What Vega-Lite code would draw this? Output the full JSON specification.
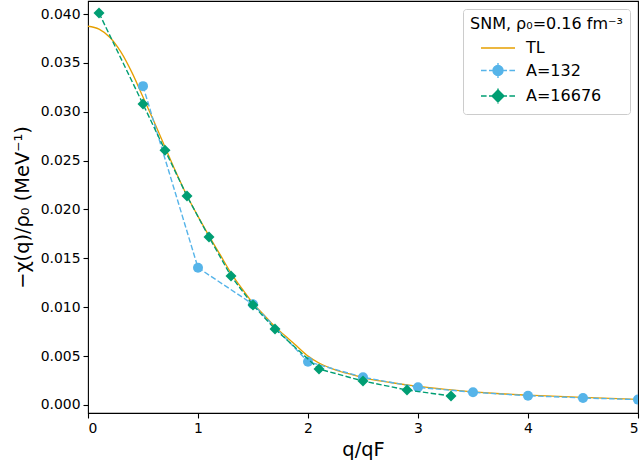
{
  "$schema": "https://vega.github.io/schema/vega-lite/v6.json",
  "width": 550,
  "height": 412,
  "autosize": "none",
  "padding": {"left": 88, "top": 1, "right": 3, "bottom": 55},
  "background": "white",
  "config": {
    "view": {"stroke": "black", "strokeWidth": 1.1},
    "axis": {
      "domain": false, "grid": false,
      "tickColor": "black", "tickSize": 5, "tickWidth": 1.1,
      "labelFont": "DejaVu Sans", "labelFontSize": 13.9, "labelColor": "black", "labelPadding": 3,
      "titleFont": "DejaVu Sans", "titleFontSize": 19.4, "titleFontWeight": "normal", "titleColor": "black"
    },
    "legend": {
      "labelFont": "DejaVu Sans", "labelFontSize": 16, "labelColor": "black",
      "titleFont": "DejaVu Sans", "titleFontSize": 16, "titleFontWeight": "normal", "titleColor": "black",
      "strokeColor": "#cccccc", "fillColor": "rgba(255,255,255,0.8)", "cornerRadius": 3, "padding": 7
    }
  },
  "datasets": {
    "d": [
      {"s": "TL", "q": 0.0, "v": 0.03875},
      {"s": "TL", "q": 0.1, "v": 0.03845},
      {"s": "TL", "q": 0.2, "v": 0.0376},
      {"s": "TL", "q": 0.3, "v": 0.0361},
      {"s": "TL", "q": 0.4, "v": 0.0340},
      {"s": "TL", "q": 0.5, "v": 0.0315},
      {"s": "TL", "q": 0.6, "v": 0.0290},
      {"s": "TL", "q": 0.7, "v": 0.0264},
      {"s": "TL", "q": 0.8, "v": 0.0238},
      {"s": "TL", "q": 0.9, "v": 0.0214},
      {"s": "TL", "q": 1.0, "v": 0.0193},
      {"s": "TL", "q": 1.1, "v": 0.0173},
      {"s": "TL", "q": 1.2, "v": 0.0154},
      {"s": "TL", "q": 1.3, "v": 0.0135},
      {"s": "TL", "q": 1.4, "v": 0.0119},
      {"s": "TL", "q": 1.5, "v": 0.0104},
      {"s": "TL", "q": 1.6, "v": 0.0092},
      {"s": "TL", "q": 1.7, "v": 0.0080},
      {"s": "TL", "q": 1.8, "v": 0.0070},
      {"s": "TL", "q": 1.9, "v": 0.0060},
      {"s": "TL", "q": 2.0, "v": 0.0050},
      {"s": "TL", "q": 2.1, "v": 0.0043},
      {"s": "TL", "q": 2.2, "v": 0.0038},
      {"s": "TL", "q": 2.3, "v": 0.0034},
      {"s": "TL", "q": 2.4, "v": 0.0031},
      {"s": "TL", "q": 2.5, "v": 0.0028},
      {"s": "TL", "q": 2.75, "v": 0.0023},
      {"s": "TL", "q": 3.0, "v": 0.0019},
      {"s": "TL", "q": 3.25, "v": 0.0016},
      {"s": "TL", "q": 3.5, "v": 0.00135},
      {"s": "TL", "q": 3.75, "v": 0.00115},
      {"s": "TL", "q": 4.0, "v": 0.0010},
      {"s": "TL", "q": 4.5, "v": 0.00077},
      {"s": "TL", "q": 5.0, "v": 0.00058},
      {"s": "A=132", "q": 0.5, "v": 0.03262},
      {"s": "A=132", "q": 1.0, "v": 0.01404},
      {"s": "A=132", "q": 1.5, "v": 0.0103},
      {"s": "A=132", "q": 2.0, "v": 0.00443},
      {"s": "A=132", "q": 2.5, "v": 0.00283},
      {"s": "A=132", "q": 3.0, "v": 0.00181},
      {"s": "A=132", "q": 3.5, "v": 0.0013},
      {"s": "A=132", "q": 4.0, "v": 0.00095},
      {"s": "A=132", "q": 4.5, "v": 0.00072},
      {"s": "A=132", "q": 5.0, "v": 0.00055},
      {"s": "A=16676", "q": 0.1, "v": 0.0401},
      {"s": "A=16676", "q": 0.5, "v": 0.03078},
      {"s": "A=16676", "q": 0.7, "v": 0.02607},
      {"s": "A=16676", "q": 0.9, "v": 0.02137},
      {"s": "A=16676", "q": 1.1, "v": 0.01718},
      {"s": "A=16676", "q": 1.3, "v": 0.01319},
      {"s": "A=16676", "q": 1.5, "v": 0.01022},
      {"s": "A=16676", "q": 1.7, "v": 0.00777},
      {"s": "A=16676", "q": 2.1, "v": 0.00368},
      {"s": "A=16676", "q": 2.5, "v": 0.00245},
      {"s": "A=16676", "q": 2.9, "v": 0.00153},
      {"s": "A=16676", "q": 3.3, "v": 0.00092}
    ]
  },
  "data": {"name": "d"},
  "encoding": {
    "x": {"field": "q", "type": "quantitative",
      "scale": {"domain": [0, 5], "nice": false, "zero": false},
      "axis": {"title": "q/qF", "values": [0, 1, 2, 3, 4, 5], "format": "d", "titlePadding": 6}},
    "y": {"field": "v", "type": "quantitative",
      "scale": {"domain": [-0.00082, 0.04133], "nice": false, "zero": false},
      "axis": {"title": "−χ(q)/ρ₀ (MeV⁻¹)", "values": [0, 0.005, 0.01, 0.015, 0.02, 0.025, 0.03, 0.035, 0.04], "format": ".3f", "titlePadding": 8}}
  },
  "layer": [
    {
      "transform": [{"filter": "datum.s === 'TL'"}],
      "mark": {"type": "line", "color": "#E69F00", "strokeWidth": 1.3, "clip": true, "interpolate": "monotone"},
      "encoding": {}
    },
    {
      "transform": [{"filter": "datum.s === 'A=132'"}],
      "mark": {"type": "line", "color": "#56B4E9", "strokeWidth": 1.4, "strokeDash": [5.5, 2.4], "clip": true},
      "encoding": {}
    },
    {
      "transform": [{"filter": "datum.s === 'A=132'"}],
      "mark": {"type": "point", "filled": true, "opacity": 1, "shape": "circle", "size": 100, "color": "#56B4E9", "clip": true},
      "encoding": {}
    },
    {
      "transform": [{"filter": "datum.s === 'A=16676'"}],
      "mark": {"type": "line", "color": "#009E73", "strokeWidth": 1.4, "strokeDash": [5.5, 2.4], "clip": true},
      "encoding": {}
    },
    {
      "transform": [{"filter": "datum.s === 'A=16676'"}],
      "mark": {"type": "point", "filled": true, "opacity": 0, "size": 121, "clip": true},
      "encoding": {
        "color": {"field": "s", "type": "nominal",
          "scale": {"domain": ["TL", "A=132", "A=16676"], "range": ["#E69F00", "#56B4E9", "#009E73"]},
          "legend": {
            "title": "SNM, ρ₀=0.16 fm⁻³",
            "orient": "top-right", "offset": 8,
            "symbolSize": 400, "symbolOffset": 17, "labelOffset": 17, "rowPadding": 3.5,
            "symbolOpacity": 1,
            "encode": {
              "symbols": {
                "update": {
                  "shape": {"signal": "datum.value === 'TL' ? 'M-1.7,0L1.7,0' : datum.value === 'A=132' ? 'M-1.7,0H-1.14M-0.9,0H-0.34M0.34,0H0.9M1.14,0H1.7M0,-0.75V0.75M0.5,0A0.5,0.5 0 1,1 -0.5,0A0.5,0.5 0 1,1 0.5,0Z' : 'M-1.7,0H-1.14M-0.9,0H-0.34M0.34,0H0.9M1.14,0H1.7M0,-0.75V0.75M0,-0.6L0.6,0L0,0.6L-0.6,0Z'"},
                  "stroke": {"signal": "datum.value === 'TL' ? '#E69F00' : datum.value === 'A=132' ? '#56B4E9' : '#009E73'"},
                  "fill": {"signal": "datum.value === 'TL' ? '#E69F00' : datum.value === 'A=132' ? '#56B4E9' : '#009E73'"},
                  "strokeWidth": {"value": 1.4},
                  "opacity": {"value": 1}
                }
              }
            }
          }}
      }
    },
    {
      "transform": [{"filter": "datum.s === 'A=16676'"}],
      "mark": {"type": "point", "filled": true, "opacity": 1, "shape": "diamond", "size": 121, "color": "#009E73", "clip": true},
      "encoding": {}
    }
  ]
}
